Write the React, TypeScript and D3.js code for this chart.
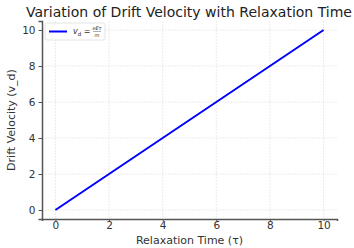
import React, { useEffect, useRef } from 'react';
import * as d3 from 'd3';

const relaxationTime = [0, 1, 2, 3, 4, 5, 6, 7, 8, 9, 10];
const driftVelocity = [0, 1, 2, 3, 4, 5, 6, 7, 8, 9, 10];
const xTicks = [0, 2, 4, 6, 8, 10];
const yTicks = [0, 2, 4, 6, 8, 10];

export default function App() {
  const svgRef = useRef<SVGSVGElement>(null);
  const width = 354;
  const height = 248;

  useEffect(() => {
    const svg = d3.select(svgRef.current);
    svg.selectAll('*').remove();

    const left = 42, right = 337, top = 21, bottom = 219;
    const font = 'DejaVu Sans, sans-serif';

    const x = d3.scaleLinear().domain([-0.5, 10.5]).range([left, right]);
    const y = d3.scaleLinear().domain([-0.5, 10.5]).range([bottom, top]);

    svg.append('rect').attr('width', width).attr('height', height).attr('fill', '#fff');

    // Grid
    svg.selectAll('.gx').data(xTicks).enter().append('line')
      .attr('x1', d => x(d)).attr('x2', d => x(d))
      .attr('y1', top).attr('y2', bottom)
      .style('stroke', '#e6e6e6').style('stroke-width', 0.8).style('stroke-dasharray', '2,1');
    svg.selectAll('.gy').data(yTicks).enter().append('line')
      .attr('x1', left).attr('x2', right)
      .attr('y1', d => y(d)).attr('y2', d => y(d))
      .style('stroke', '#e6e6e6').style('stroke-width', 0.8).style('stroke-dasharray', '2,1');

    // Line
    const line = d3.line<number>()
      .x((_, i) => x(relaxationTime[i]))
      .y(d => y(d));
    svg.append('path').datum(driftVelocity)
      .attr('d', line)
      .style('fill', 'none').style('stroke', '#0000ff').style('stroke-width', 2);

    // Axes
    const xAxis = svg.append('g').attr('transform', `translate(0,${bottom})`)
      .call(d3.axisBottom(x).tickValues(xTicks).tickSize(2).tickPadding(1).tickFormat(d3.format('d')));
    const yAxis = svg.append('g').attr('transform', `translate(${left},0)`)
      .call(d3.axisLeft(y).tickValues(yTicks).tickSize(3.5).tickPadding(3).tickFormat(d3.format('d')));
    [xAxis, yAxis].forEach(a => {
      a.select('.domain').style('stroke', '#555').style('stroke-width', 1.5);
      a.selectAll('.tick line').style('stroke', '#555');
      a.selectAll('text').style('font-family', font).style('font-size', '10.5px').style('fill', '#333');
    });

    // Title
    svg.append('text').attr('x', 189).attr('y', 17)
      .attr('text-anchor', 'middle')
      .attr('textLength', 326).attr('lengthAdjust', 'spacingAndGlyphs')
      .style('font-family', font).style('font-size', '14px').style('fill', '#222')
      .text('Variation of Drift Velocity with Relaxation Time');

    svg.append('text').attr('x', (left + right) / 2).attr('y', 244)
      .attr('text-anchor', 'middle')
      .style('font-family', font).style('font-size', '11px').style('fill', '#333')
      .text('Relaxation Time (τ)');

    svg.append('text')
      .attr('transform', `translate(15,${(top + bottom) / 2}) rotate(-90)`)
      .attr('text-anchor', 'middle')
      .style('font-family', font).style('font-size', '11px').style('fill', '#333')
      .text('Drift Velocity (v_d)');

    // Legend
    const lg = svg.append('g').attr('transform', 'translate(45,23)');
    lg.append('rect').attr('width', 60).attr('height', 17).attr('rx', 2)
      .style('fill', '#fff').style('stroke', '#ddd').style('stroke-width', 0.8);
    lg.append('line').attr('x1', 4).attr('x2', 22).attr('y1', 8.5).attr('y2', 8.5)
      .style('stroke', '#0000ff').style('stroke-width', 2);
    const t = lg.append('text').attr('x', 28).attr('y', 11)
      .style('font-family', font).style('font-size', '8px').style('fill', '#333');
    t.append('tspan').style('font-style', 'italic').text('v');
    t.append('tspan').attr('font-size', '5.5px').attr('dy', 1.5).text('d');
    t.append('tspan').attr('dy', -1.5).text(' = ');
    lg.append('text').attr('x', 52).attr('y', 7)
      .attr('text-anchor', 'middle')
      .style('font-family', font).style('font-size', '5px').style('font-style', 'italic').style('fill', '#333')
      .text('eEτ');
    lg.append('line').attr('x1', 48).attr('x2', 56).attr('y1', 8.5).attr('y2', 8.5)
      .style('stroke', '#333').style('stroke-width', 0.4);
    lg.append('text').attr('x', 52).attr('y', 13.5)
      .attr('text-anchor', 'middle')
      .style('font-family', font).style('font-size', '5px').style('font-style', 'italic').style('fill', '#333')
      .text('m');
  }, []);

  return (
    <svg ref={svgRef} width={width} height={height}
      style={{ position: 'absolute', left: 0, top: 0, display: 'block' }} />
  );
}
